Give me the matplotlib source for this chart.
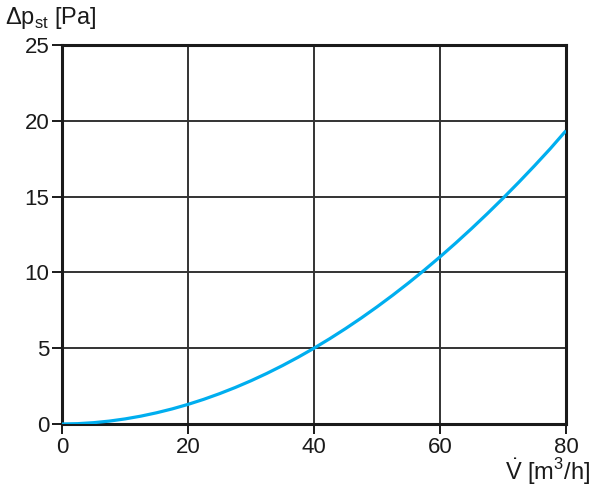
import matplotlib.pyplot as plt

# volume flow [m3/h] and static pressure drop [Pa]
flow = [0, 2.5, 5, 7.5, 10, 12.5, 15, 17.5, 20, 22.5, 25, 27.5, 30, 32.5, 35, 37.5, 40,
        42.5, 45, 47.5, 50, 52.5, 55, 57.5, 60, 62.5, 65, 67.5, 70, 72.5, 75, 77.5, 80]
dp = [0, 0.022, 0.087, 0.191, 0.335, 0.517, 0.739, 0.997, 1.294, 1.628, 2.0, 2.408, 2.853,
      3.335, 3.854, 4.409, 5.0, 5.627, 6.291, 6.991, 7.726, 8.497, 9.304, 10.147, 11.024,
      11.938, 12.887, 13.871, 14.89, 15.944, 17.034, 18.159, 19.35]

xticks = [0, 20, 40, 60, 80]
yticks = [0, 5, 10, 15, 20, 25]

plt.rcParams['font.family'] = ['Liberation Sans', 'DejaVu Sans']
plt.rcParams['mathtext.fontset'] = 'custom'
plt.rcParams['mathtext.rm'] = 'Liberation Sans'

fig = plt.figure(figsize=(6, 4.98), dpi=100)
ax = fig.add_axes([62 / 600, 74 / 498, 504 / 600, 379 / 498])

ax.plot(flow, dp, color='#00aeef', lw=2.3, zorder=3, solid_capstyle='butt')

ax.set_xlim(0, 80)
ax.set_ylim(0, 25)
ax.set_xticks(xticks)
ax.set_yticks(yticks)
ax.grid(True, color='#333333', lw=1.4)
ax.set_axisbelow(True)
for s in ax.spines.values():
    s.set_linewidth(2.2)
    s.set_color('#1a1a1a')
ax.tick_params(direction='out', length=7, width=1.4, labelsize=16, pad=2, colors='#1a1a1a')

fig.text(5 / 600, 1 - 18 / 498, r'$\Delta$p$_{\mathregular{st}}$ [Pa]', fontsize=17,
         va='center', ha='left', color='#1a1a1a')
fig.text(590 / 600, 1 - 472 / 498, r'$\dot{\mathregular{V}}$ [m$^{\mathregular{3}}$/h]', fontsize=17,
         va='center', ha='right', color='#1a1a1a')

fig.savefig('out.png', dpi=100)
